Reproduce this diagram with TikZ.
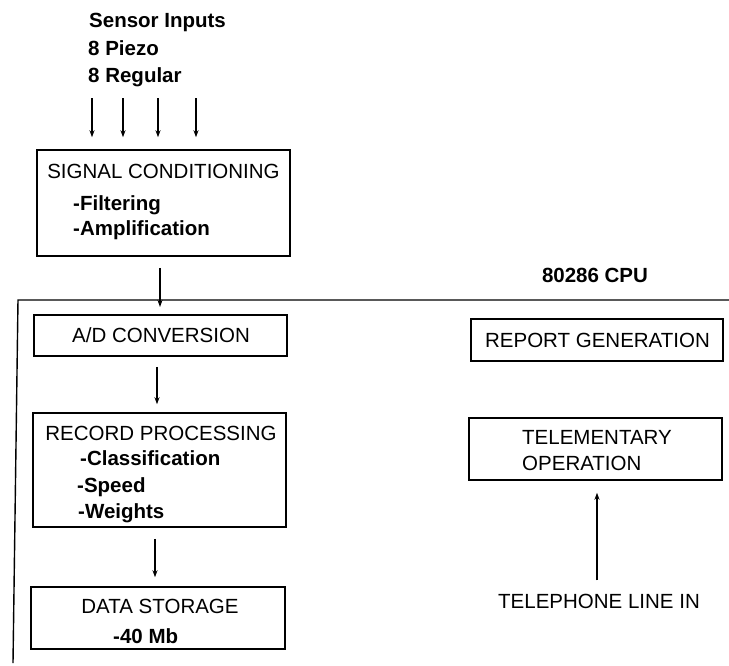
\documentclass[tikz,border=0pt]{standalone}
\usepackage{fontspec}
\setmainfont{Liberation Sans}
\usetikzlibrary{arrows.meta}
\begin{document}
\begin{tikzpicture}[x=1pt,y=-1pt,
  box/.style={draw,line width=1.5pt,inner sep=0pt,rectangle},
  lbl/.style={inner sep=0pt,font=\fontsize{20.5}{24}\selectfont},
  lblb/.style={inner sep=0pt,font=\fontsize{20.5}{24}\selectfont\bfseries},
  flow/.style={-{Stealth[length=7pt,width=5pt]},line width=1.2pt}]
\useasboundingbox (0,0) rectangle (729,665);

% sensor input labels
\node[lblb,anchor=base west] (sens) at (89,27) {Sensor Inputs};
\node[lblb,anchor=base west] (piezo) at (88,55) {8 Piezo};
\node[lblb,anchor=base west] (reg) at (88,82) {8 Regular};

% signal conditioning box
\node[box,minimum width=253pt,minimum height=106pt] (sc) at (163.5,203) {};
\node[lbl,anchor=base] (sct) at (163.5,178) {SIGNAL CONDITIONING};
\node[lblb,anchor=base west] (scf) at (73,210) {-Filtering};
\node[lblb,anchor=base west] (sca) at (73,235) {-Amplification};

% input arrows
\foreach \n/\x in {i1/92,i2/123,i3/158,i4/196}{
  \coordinate (\n) at (\x,98);
  \draw[flow,shorten >=12pt] (\n) -- (\n |- sc.north);
}

% CPU frame
\coordinate (cpuR) at (729,300);
\coordinate (cpuTL) at (18,300);
\coordinate (cpuBL) at (13,663);
\draw[line width=1.4pt] (cpuR) -- (cpuTL) -- (cpuBL);
\node[lblb,anchor=base] (cpu) at (595,282) {80286 CPU};

% left column
\node[box,minimum width=253pt,minimum height=41pt] (ad) at (160.5,335.5) {};
\node[lbl,anchor=base] (adt) at (161,342) {A/D CONVERSION};

\node[box,minimum width=253pt,minimum height=114pt] (rp) at (159.5,470) {};
\node[lbl,anchor=base] (rpt) at (161,440) {RECORD PROCESSING};
\node[lblb,anchor=base west] (rpc) at (80,465) {-Classification};
\node[lblb,anchor=base west] (rps) at (77,492) {-Speed};
\node[lblb,anchor=base west] (rpw) at (78,518) {-Weights};

\node[box,minimum width=254pt,minimum height=62pt] (ds) at (158,618) {};
\node[lbl,anchor=base] (dst) at (160,613) {DATA STORAGE};
\node[lblb,anchor=base west] (dsm) at (113,643) {-40 Mb};

% right column
\node[box,minimum width=252pt,minimum height=42pt] (rg) at (597,340) {};
\node[lbl,anchor=base] (rgt) at (597.5,347) {REPORT GENERATION};

\node[box,minimum width=253pt,minimum height=62pt] (to) at (595.5,449) {};
\node[lbl,anchor=base west] (tot1) at (522,444) {TELEMENTARY};
\node[lbl,anchor=base west] (tot2) at (522,470) {OPERATION};

\node[lbl,anchor=base] (tel) at (599,608) {TELEPHONE LINE IN};

% flow arrows
\coordinate (adin) at (160,307);
\draw[flow,shorten <=11pt] (sc.south -| adin) -- (adin);
\draw[flow,shorten <=10pt,shorten >=8pt] ([xshift=-3.5pt]ad.south) -- ([xshift=-2.5pt]rp.north);
\draw[flow,shorten <=11pt,shorten >=9pt] ([xshift=-4.5pt]rp.south) -- ([xshift=-3pt]ds.north);
\draw[flow,shorten <=13pt,shorten >=12pt] ([xshift=-2pt]tel.north) -- ([xshift=1.5pt]to.south);
\end{tikzpicture}
\end{document}
